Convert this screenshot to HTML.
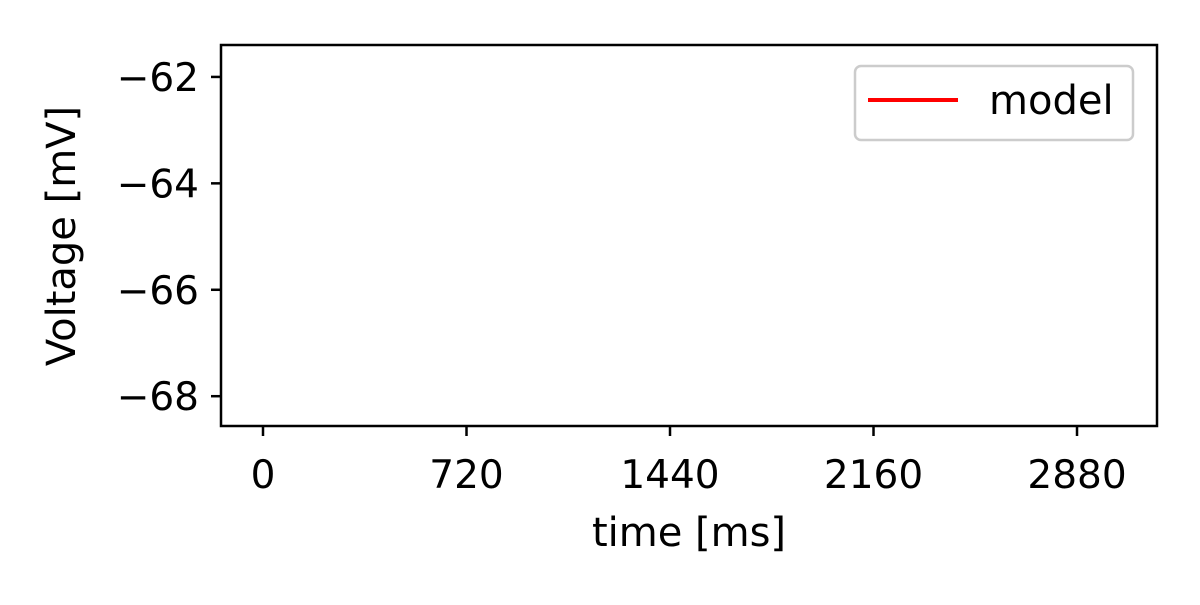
<!DOCTYPE html>
<html><head><meta charset="utf-8"><style>
html,body{margin:0;padding:0;background:#fff;}
svg text{font-family:"DejaVu Sans","Liberation Sans",sans-serif;fill:#000;}
</style></head><body>
<svg id="chart" width="1200" height="600" viewBox="0 0 1200 600" xmlns="http://www.w3.org/2000/svg">
<rect x="0" y="0" width="1200" height="600" fill="#fff"/>
<g id="plot"></g>
<rect x="221" y="45" width="936" height="381" fill="none" stroke="#000" stroke-width="2.5"/>
<g id="xt"></g>
<g id="yt"></g>
<text x="689" y="546" font-size="40" text-anchor="middle">time [ms]</text>
<text transform="translate(75,236) rotate(-90)" font-size="40" text-anchor="middle">Voltage [mV]</text>
<g>
<rect x="855" y="66" width="278" height="74" rx="6" fill="#fff" fill-opacity="0.8" stroke="#ccc" stroke-width="2.5"/>
<line x1="868" y1="100" x2="958" y2="100" stroke="#ff0000" stroke-width="4"/>
<text x="989" y="114" font-size="40">model</text>
</g>
</svg>
<script>
const xTicks = [0, 720, 1440, 2160, 2880];
const yTicks = [-62, -64, -66, -68];
const modelTime = [];
const modelVoltage = [];
const X0 = 221, X1 = 1157, Y0 = 45, Y1 = 426;
const xMin = -148.6, xMax = 3163, yMin = -68.56, yMax = -61.4;
function sx(v){return X0 + (v - xMin) / (xMax - xMin) * (X1 - X0);}
function sy(v){return Y1 - (v - yMin) / (yMax - yMin) * (Y1 - Y0);}
const NS = "http://www.w3.org/2000/svg";
const xt = document.getElementById('xt'), yt = document.getElementById('yt');
xTicks.forEach(t => {
  const l = document.createElementNS(NS,'line');
  
  
  l.setAttribute('x1', sx(t)); l.setAttribute('x2', sx(t));
  l.setAttribute('y1', Y1); l.setAttribute('y2', Y1 + 10);
  l.setAttribute('stroke', '#000'); l.setAttribute('stroke-width', '2.5');
  xt.appendChild(l);
  const tx = document.createElementNS(NS,'text');
  
  
  tx.setAttribute('x', sx(t)); tx.setAttribute('y', 488);
  tx.setAttribute('font-size', '39'); tx.setAttribute('text-anchor', 'middle');
  tx.textContent = t;
  xt.appendChild(tx);
});
yTicks.forEach(t => {
  const l = document.createElementNS(NS,'line');
  
  
  l.setAttribute('x1', X0 - 10); l.setAttribute('x2', X0);
  l.setAttribute('y1', sy(t)); l.setAttribute('y2', sy(t));
  l.setAttribute('stroke', '#000'); l.setAttribute('stroke-width', '2.5');
  yt.appendChild(l);
  const tx = document.createElementNS(NS,'text');
  
  
  tx.setAttribute('x', 199); tx.setAttribute('y', sy(t) + 14);
  tx.setAttribute('font-size', '39'); tx.setAttribute('text-anchor', 'end');
  tx.textContent = '\u2212' + Math.abs(t);
  yt.appendChild(tx);
});
if (modelTime.length) {
  const p = document.createElementNS(NS,'polyline');
  
  
  p.setAttribute('points', modelTime.map((t,i)=>sx(t)+','+sy(modelVoltage[i])).join(' '));
  p.setAttribute('fill', 'none'); p.setAttribute('stroke', '#ff0000'); p.setAttribute('stroke-width', '3');
  document.getElementById('plot').appendChild(p);
}
</script>
</body></html>
